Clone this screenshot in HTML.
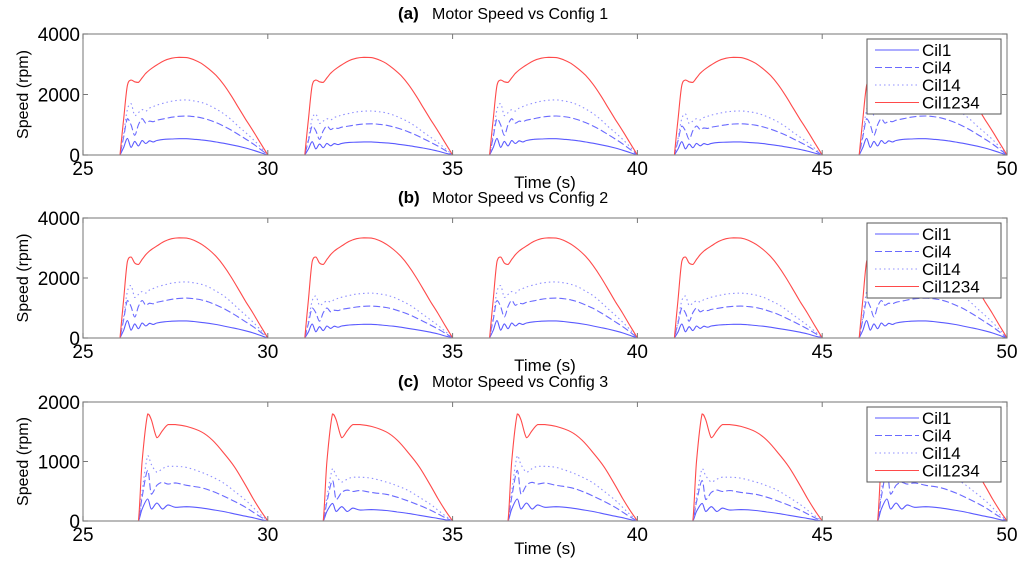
<!DOCTYPE html>
<html><head><meta charset="utf-8"><style>
html,body{margin:0;padding:0;background:#fff;}
svg text{font-family:"Liberation Sans",Arial,sans-serif;}
</style></head><body>
<svg id="fig" width="1024" height="563" viewBox="0 0 1024 563" xmlns="http://www.w3.org/2000/svg"></svg>
<script>
// ---- data ----
const cycleStarts = [25, 30, 35, 40, 45];
const cycleScaleBlue = [1, 0.8, 1, 0.8, 1];
const timeGridAB = [0,0.1,0.2,0.3,0.4,0.5,0.6,0.7,0.8,0.9,1.0,1.2,1.4,1.6,1.8,2.0,2.2,2.4,2.6,2.8,3.0,3.2,3.4,3.6,3.8,4.0];
const redA  = [0,1200,2300,2480,2420,2400,2550,2700,2810,2900,2980,3120,3200,3230,3220,3150,3030,2850,2630,2340,1980,1580,1180,800,400,0];
const c14A  = [0,700,1500,1700,1300,1400,1500,1450,1550,1600,1650,1720,1780,1810,1820,1790,1740,1650,1520,1370,1180,950,740,520,270,0];
const c4A   = [0,600,1200,1000,650,1000,1200,1050,1120,1100,1150,1200,1250,1280,1290,1270,1230,1160,1070,960,830,680,530,370,190,0];
const c1A   = [0,250,550,250,450,300,480,380,470,430,480,520,530,540,540,520,500,470,430,390,340,290,230,160,80,0];
const redB  = [0,1300,2550,2700,2500,2450,2620,2780,2900,2990,3070,3220,3310,3340,3330,3260,3130,2950,2720,2420,2050,1640,1220,830,410,0];
const c14B  = [0,720,1550,1750,1350,1450,1550,1500,1600,1650,1700,1770,1830,1860,1870,1840,1790,1700,1560,1410,1210,980,760,530,280,0];
const c4B   = [0,620,1250,1050,700,1050,1250,1090,1160,1140,1190,1240,1290,1320,1330,1310,1270,1200,1100,990,850,700,540,380,200,0];
const c1B   = [0,260,580,260,470,310,500,400,490,450,500,540,560,570,570,550,520,490,450,400,350,300,240,170,85,0];
const timeGridC = [0,0.1,0.2,0.35,0.45,0.6,0.75,0.9,1.1,1.4,1.8,2.1,2.4,2.7,3.0,3.2,3.4,3.6];
const redC  = [0,0,1000,1800,1700,1400,1520,1620,1620,1590,1500,1360,1150,910,600,380,180,0];
const c14C  = [0,0,500,1100,950,820,880,920,920,900,820,740,640,500,350,230,110,0];
const c4C   = [0,0,400,850,450,600,650,620,640,600,560,500,420,330,230,150,70,0];
const c1C   = [0,0,200,370,200,300,200,270,230,240,220,190,160,120,80,55,25,0];
const xTicks = [25,30,35,40,45,50];
const yTicksAB = [0,2000,4000];
const yTicksC = [0,1000,2000];
const legendLabels = ["Cil1","Cil4","Cil14","Cil1234"];

const panels = [
 {id:"a", title:"Motor Speed vs Config 1", top:34, bottom:155, ymax:4000, yt:yTicksAB, start:1.0, grid:timeGridAB, series:[c1A,c4A,c14A,redA]},
 {id:"b", title:"Motor Speed vs Config 2", top:218, bottom:338, ymax:4000, yt:yTicksAB, start:1.0, grid:timeGridAB, series:[c1B,c4B,c14B,redB]},
 {id:"c", title:"Motor Speed vs Config 3", top:402, bottom:521, ymax:2000, yt:yTicksC, start:1.4, grid:timeGridC, series:[c1C,c4C,c14C,redC]},
];
const styles = [
 {c:"#5a5aff", d:""},
 {c:"#6a6aff", d:"7,3"},
 {c:"#9090ff", d:"1.5,3"},
 {c:"#ff4a4a", d:""},
];
const L=83, R=1007;
const NS="http://www.w3.org/2000/svg";
const svg=document.getElementById('fig');
function el(tag, attrs, parent){const e=document.createElementNS(NS,tag);for(const k in attrs)e.setAttribute(k,attrs[k]);(parent||svg).appendChild(e);return e;}
const xs = t => L + (t-25)/(50-25)*(R-L);
const clamp=(v,a,b)=>Math.max(Math.min(a,b),Math.min(Math.max(a,b),v));
function smoothSeg(pts){
  let d='';
  for(let i=0;i<pts.length-1;i++){
    const p0=pts[Math.max(0,i-1)],p1=pts[i],p2=pts[i+1],p3=pts[Math.min(pts.length-1,i+2)];
    const c1x=p1[0]+(p2[0]-p0[0])/6,c1y=clamp(p1[1]+(p2[1]-p0[1])/6,p1[1],p2[1]);
    const c2x=p2[0]-(p3[0]-p1[0])/6,c2y=clamp(p2[1]-(p3[1]-p1[1])/6,p1[1],p2[1]);
    d+=`C${c1x.toFixed(1)},${c1y.toFixed(1)} ${c2x.toFixed(1)},${c2y.toFixed(1)} ${p2[0].toFixed(1)},${p2[1].toFixed(1)}`;
  }
  return d;
}

panels.forEach(p=>{
  const ys = v => p.bottom - v/p.ymax*(p.bottom-p.top);
  const g=el('g',{});
  
  
  p.series.forEach((vals,si)=>{
    let d='M'+xs(25).toFixed(1)+','+ys(0).toFixed(1);
    cycleStarts.forEach((cs,ci)=>{
      const sc = si<3 ? cycleScaleBlue[ci] : 1;
      const pts=p.grid.map((t,i)=>[xs(cs+p.start+t), ys(vals[i]*sc)]);
      d+='L'+pts[0][0].toFixed(1)+','+pts[0][1].toFixed(1)+smoothSeg(pts);
    });
    const path=el('path',{d:d,fill:'none',stroke:styles[si].c,'stroke-width':1.1,'stroke-dasharray':styles[si].d,'stroke-linejoin':'round'},g);
    
    
  });
  const box=el('rect',{x:L,y:p.top,width:R-L,height:p.bottom-p.top,fill:'none',stroke:'#8c8c8c','stroke-width':1.2},g);
  
  
  xTicks.forEach(t=>{
    el('line',{x1:xs(t),x2:xs(t),y1:p.bottom,y2:p.bottom-5,stroke:'#777'},g);
    el('line',{x1:xs(t),x2:xs(t),y1:p.top,y2:p.top+5,stroke:'#777'},g);
    const tx=el('text',{x:xs(t),y:p.bottom+20,'font-size':19,'text-anchor':'middle',fill:'#000'},g);
    tx.textContent=t;
    
    
  });
  p.yt.forEach(v=>{
    el('line',{x1:L,x2:L+5,y1:ys(v),y2:ys(v),stroke:'#777'},g);
    el('line',{x1:R,x2:R-5,y1:ys(v),y2:ys(v),stroke:'#777'},g);
    const tx=el('text',{x:L-3,y:ys(v)+7,'font-size':19,'text-anchor':'end',fill:'#000'},g);
    tx.textContent=v;
    
    
  });
  const yl=el('text',{x:0,y:0,'font-size':16,'text-anchor':'middle',transform:`translate(28,${(p.top+p.bottom)/2}) rotate(-90)`},g);
  yl.textContent='Speed (rpm)';
  
  
  const xl=el('text',{x:545,y:p.bottom+33,'font-size':17,'text-anchor':'middle'},g);
  xl.textContent='Time (s)';
  
  
  const t1=el('text',{x:398,y:p.top-15,'font-size':17,'font-weight':'bold'},g);
  t1.textContent='('+p.id+')';
  
  
  const t2=el('text',{x:432,y:p.top-15,'font-size':16},g);
  t2.textContent=p.title;
  
  
  const lg=el('g',{},g);
  
  
  const ly=p.top+5;
  el('rect',{x:867,y:ly,width:134,height:75,fill:'#fff',stroke:'#555','stroke-width':1},lg);
  legendLabels.forEach((lab,i)=>{
    const yy=ly+11+i*17.5;
    el('line',{x1:875,x2:919,y1:yy,y2:yy,stroke:styles[i].c,'stroke-width':1.1,'stroke-dasharray':styles[i].d},lg);
    const tx=el('text',{x:922,y:yy+6,'font-size':17},lg);
    tx.textContent=lab;
    
    
  });
});
</script>
</body></html>
